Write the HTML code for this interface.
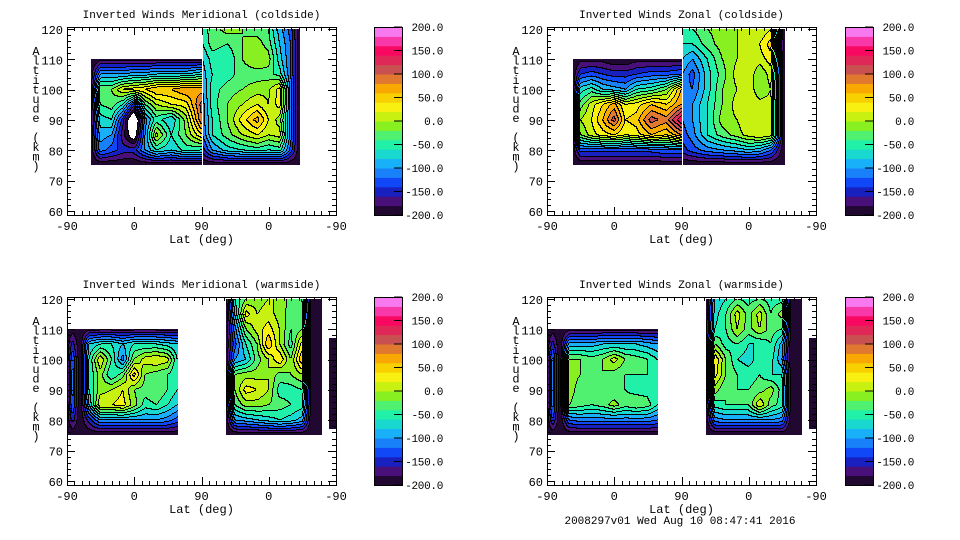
<!DOCTYPE html>
<html><head><meta charset="utf-8">
<style>
html,body{margin:0;padding:0;background:#fff;}
#root{position:relative;width:960px;height:540px;overflow:hidden;background:#fff;font-family:"Liberation Mono",monospace;}
canvas{position:absolute;image-rendering:pixelated;}
svg{position:absolute;left:0;top:0;}
</style></head>
<body>
<div id="root">
<canvas id="c0" width="268" height="186" style="left:68px;top:28px"></canvas>
<canvas id="c1" width="268" height="186" style="left:548px;top:28px"></canvas>
<canvas id="c2" width="268" height="186" style="left:68px;top:298px"></canvas>
<canvas id="c3" width="268" height="186" style="left:548px;top:298px"></canvas>
<svg id="ov" width="960" height="540"></svg>
</div>
<script>
// ---- colour scale ----
const levelLabels = ["200.0","150.0","100.0","50.0","0.0","-50.0","-100.0","-150.0","-200.0"];
const levelValues = [200,150,100,50,0,-50,-100,-150,-200];
const bandColors = ["#200830","#481078","#1820c0","#1048f8","#1880f8","#18b0f8","#18d8d0","#20f0a8","#50f070","#88f020","#c8f010","#f8f010","#f8d000","#f8a800","#e07830","#c85050","#e02858","#f80860","#f838a8","#f878f0"];
const xTickLabels = ["-90","0","90","0","-90"];
const yTickLabels = ["120","110","100","90","80","70","60"];
const altLeft = [75,80,85,90,95,100,105,110];
const altRight = [75,80,85,90,95,100,105,110,115,120];

// ---- panel 1: meridional coldside ----
const mcLeftX = [32,45,60,75,90,105,120,140,160,181];
const mcLeftV = [
[-200,-200,-200,-200,-200,-200,-200,-200,-200,-200],
[-200,-110,-130,-150,-150,-100,-60,-80,-50,-60],
[-200,-90,-100,-170,-230,-100,10,-60,-20,40],
[-200,-70,-60,-150,-260,-110,-50,-80,-10,100],
[-200,-40,-30,-60,-150,-40,0,20,30,110],
[-200,-20,-20,20,30,40,60,60,80,70],
[-200,-100,-100,-100,-90,-90,-80,-80,-80,-60],
[-200,-190,-190,-190,-190,-190,-190,-190,-190,-190]];
const mcRightX = [182,195,215,235,255,270,285,300,312];
const mcRightV = [
[-200,-200,-200,-200,-200,-200,-200,-200,-200],
[-150,-100,-70,-60,-50,-60,-50,-130,-200],
[-120,-60,-30,0,20,0,10,-110,-200],
[-110,-60,-20,30,70,20,-10,-110,-200],
[-110,-50,-20,0,20,0,30,-110,-200],
[-100,-50,-30,-20,-10,-5,30,-110,-200],
[-90,-60,-50,-30,-30,-30,-50,-120,-200],
[-80,-50,-60,-20,0,-10,-70,-120,-200],
[-60,-30,-40,-20,-10,-30,-80,-120,-200],
[-50,-30,-10,-20,-30,-40,-90,-130,-200]];

// ---- panel 2: zonal coldside ----
const zcLeftX = [35,45,60,75,90,105,120,140,160,180];
const zcLeftV = [
[-200,-200,-200,-200,-200,-200,-200,-200,-200,-200],
[-200,-130,-130,-130,-130,-130,-130,-130,-120,-120],
[-200,-20,10,30,40,20,30,60,40,80],
[-200,0,20,60,110,40,50,110,90,160],
[-200,-30,10,40,70,20,30,60,40,80],
[-200,-70,-50,-80,-90,-100,-60,-50,-20,60],
[-200,-140,-130,-140,-150,-150,-140,-130,-130,-120],
[-200,-190,-190,-190,-200,-200,-190,-190,-190,-190]];
const zcRightX = [182,195,215,235,255,270,285,300,318];
const zcRightV = [
[-200,-200,-200,-200,-200,-200,-200,-200,-200],
[-150,-130,-110,-100,-90,-80,-90,-120,-200],
[-130,-110,-60,-30,-10,10,20,10,-200],
[-120,-100,-60,-10,0,20,20,10,-200],
[-110,-100,-60,-20,10,20,10,10,-200],
[-110,-120,-70,-20,0,20,-20,0,-200],
[-100,-130,-70,-30,10,20,-20,10,-200],
[-80,-100,-60,-20,0,20,10,30,-200],
[-60,-60,-30,-10,0,10,20,50,-200],
[-60,-40,-20,-10,0,0,0,20,-200]];

// ---- panel 3: meridional warmside ----
const mwLeftX = [0,8,18,30,45,60,75,90,105,120,135,148];
const mwLeftV = [
[-200,-200,-200,-200,-200,-200,-200,-200,-200,-200,-200,-200],
[-200,-150,-200,-150,-100,-100,-100,-100,-100,-100,-110,-130],
[-200,-120,-200,-80,20,20,30,-10,-50,-40,-60,-80],
[-200,-110,-200,-60,-10,0,20,-20,-30,-20,-40,-60],
[-200,-110,-200,-60,-10,-60,-30,50,-20,-30,-40,-60],
[-200,-120,-200,-60,20,-40,-110,-20,10,20,10,-60],
[-200,-150,-200,-80,-60,-60,-80,-60,-60,-60,-70,-80],
[-200,-190,-200,-190,-190,-190,-190,-190,-190,-190,-190,-190]];
const mwRightX = [213,225,240,255,270,285,300,315,328,341];
const mwRightV = [
[-200,-200,-200,-200,-200,-200,-200,-200,-200,-200],
[-200,-100,-90,-80,-70,-60,-70,-90,-200,-200],
[-200,-40,-10,-10,-20,-30,-40,-50,-200,-200],
[-200,-20,30,20,0,-50,-50,-40,-200,-200],
[-200,-20,-10,-10,0,-30,-20,0,-200,-200],
[-200,-100,-80,-30,0,40,-20,60,-200,-200],
[-200,-130,-60,-20,60,0,-50,30,-200,-200],
[-200,-110,-20,10,30,0,-40,-20,-200,-200],
[-200,-80,30,0,10,-10,-30,-30,-200,-200],
[-200,-60,-20,-10,0,0,-30,-40,-200,-200]];

// ---- panel 4: zonal warmside ----
const zwLeftX = [0,8,18,30,45,60,75,90,105,120,135,148];
const zwLeftV = [
[-200,-200,-200,-200,-200,-200,-200,-200,-200,-200,-200,-200],
[-200,-140,-200,-120,-110,-110,-110,-110,-110,-110,-110,-120],
[-200,-110,-200,-20,-30,-40,-30,-10,-30,-20,-30,-60],
[-200,-110,-200,-10,-30,-40,-40,-40,-40,-50,-50,-60],
[-200,-110,-200,-10,-20,-40,-20,-30,-40,-40,-40,-60],
[-200,-110,-200,-20,-20,-30,-20,10,-20,-30,-40,-60],
[-200,-150,-200,-90,-90,-90,-80,-80,-80,-80,-90,-100],
[-200,-190,-200,-190,-190,-190,-190,-190,-190,-190,-190,-190]];
const zwRightX = [213,225,240,255,270,285,300,315,328,341];
const zwRightV = [
[-200,-200,-200,-200,-200,-200,-200,-200,-200,-200],
[-200,-110,-100,-100,-100,-100,-100,-110,-200,-200],
[-200,-50,-40,-40,-40,20,-30,-50,-200,-200],
[-200,-10,-40,-40,-40,-30,-10,-50,-200,-200],
[-200,30,-20,-40,-50,-40,-60,-60,-200,-200],
[-200,40,-20,-60,-70,-50,-50,-100,-200,-200],
[-200,-20,-50,-40,-60,-60,-40,-90,-200,-200],
[-200,-60,-40,0,-30,0,-30,-40,-200,-200],
[-200,-70,-40,10,-30,10,-40,-10,-200,-200],
[-200,-80,-60,-40,-50,-40,-50,-50,-200,-200]];

const ovalX = [350,360];
const ovalAlt = [77,107];
const ovalV = [[-190,-190],[-190,-190]];

const panels = [
 {id:"c0", blocks:[[mcLeftX,altLeft,mcLeftV],[mcRightX,altRight,mcRightV]]},
 {id:"c1", blocks:[[zcLeftX,altLeft,zcLeftV],[zcRightX,altRight,zcRightV]]},
 {id:"c2", blocks:[[mwLeftX,altLeft,mwLeftV],[mwRightX,altRight,mwRightV],[ovalX,ovalAlt,ovalV]]},
 {id:"c3", blocks:[[zwLeftX,altLeft,zwLeftV],[zwRightX,altRight,zwRightV],[ovalX,ovalAlt,ovalV]]}
];

function idx(arr,v){for(let k=0;k<arr.length-1;k++){if(v<=arr[k+1])return k;}return arr.length-2;}
function sample(blocks,u,alt){
 for(const [xs,as,vs] of blocks){
  if(u<xs[0]||u>xs[xs.length-1]||alt<as[0]||alt>as[as.length-1])continue;
  const i=idx(xs,u), j=idx(as,alt);
  const tx=(u-xs[i])/(xs[i+1]-xs[i]), ty=(alt-as[j])/(as[j+1]-as[j]);
  return vs[j][i]*(1-tx)*(1-ty)+vs[j][i+1]*tx*(1-ty)+vs[j+1][i]*(1-tx)*ty+vs[j+1][i+1]*tx*ty;
 }
 return null;
}
function hex(c){return [parseInt(c.substr(1,2),16),parseInt(c.substr(3,2),16),parseInt(c.substr(5,2),16)];}
const rgb = bandColors.map(hex);
for(const p of panels){
 const cv=document.getElementById(p.id), ctx=cv.getContext('2d');
 const W=cv.width,H=cv.height, img=ctx.createImageData(W,H);
 const band=new Int16Array(W*H);
 for(let j=0;j<H;j++)for(let i=0;i<W;i++){
  const u=(i+1.5)*360/269, alt=120-(j+0.5-1)/3.033;
  const v=sample(p.blocks,u,alt);
  let b=-1;
  if(v!==null){ if(v>=-200.5){b=Math.min(19,Math.max(0,Math.floor((v+200)/20)));} else b=-2; }
  band[j*W+i]=b;
 }
 for(let j=0;j<H;j++)for(let i=0;i<W;i++){
  const b=band[j*W+i], o=(j*W+i)*4;
  let c=[255,255,255];
  if(b>=0){
   c=rgb[b];
   const r=i<W-1?band[j*W+i+1]:b, d=j<H-1?band[(j+1)*W+i]:b;
   if((r!==b&&r!==-1)||(d!==b&&d!==-1))c=[0,0,0];
  } else if(b===-2){
   const r=i<W-1?band[j*W+i+1]:b, d=j<H-1?band[(j+1)*W+i]:b;
   if(r>=0||d>=0)c=[0,0,0];
  }
  img.data[o]=c[0];img.data[o+1]=c[1];img.data[o+2]=c[2];img.data[o+3]=255;
 }
 ctx.putImageData(img,0,0);
}

// ---- overlay ----
const NS="http://www.w3.org/2000/svg";
const ov=document.getElementById('ov');
function mk(tag,attrs,parent){const e=document.createElementNS(NS,tag);for(const k in attrs)e.setAttribute(k,attrs[k]);(parent||ov).appendChild(e);return e;}
const titles=["Inverted Winds Meridional (coldside)","Inverted Winds Zonal (coldside)","Inverted Winds Meridional (warmside)","Inverted Winds Zonal (warmside)"];
const offs=[[0,0],[480,0],[0,270],[480,270]];
const cbOffs=[[0,0],[471,0],[0,270],[471,270]];
const FF='Liberation Mono, monospace';
offs.forEach(([ox,oy],n)=>{
 const g=mk('g',{});
 
 
 const L=67+ox,T=27+oy,R=336+ox,B=215+oy;
 const t=mk('text',{x:(L+R)/2,y:18+oy,'text-anchor':'middle','font-size':'11','font-family':FF},g);
 t.textContent=titles[n];
 
 
 const fr=mk('rect',{x:L+0.5,y:T+0.5,width:R-L,height:B-T,fill:'none',stroke:'#000','stroke-width':1},g);
 
 
 for(let a=60;a<=120;a+=2){
  const y=Math.round(oy+29+(120-a)*3.033)+0.5, len=(a%10===0)?8:4;
  mk('line',{x1:L,x2:L+len,y1:y,y2:y,stroke:'#000'},g);
  mk('line',{x1:R-len,x2:R,y1:y,y2:y,stroke:'#000'},g);
 }
 yTickLabels.forEach((lab,k)=>{
  const y=oy+29+k*10*3.033;
  const tx=mk('text',{x:L-4,y:y+5,'text-anchor':'end','font-size':'12','font-family':FF},g);
  tx.textContent=lab;
  
  
 });
 for(let u=0;u<=360;u+=10){
  const x=Math.round(L+u*269/360)+0.5, len=(u%90===0)?8:4;
  mk('line',{x1:x,x2:x,y1:B,y2:B-len,stroke:'#000'},g);
  mk('line',{x1:x,x2:x,y1:T,y2:T+len,stroke:'#000'},g);
 }
 xTickLabels.forEach((lab,k)=>{
  const tx=mk('text',{x:L+k*90*269/360,y:B+15,'text-anchor':'middle','font-size':'12','font-family':FF},g);
  tx.textContent=lab;
  
  
 });
 const xl=mk('text',{x:(L+R)/2,y:B+28,'text-anchor':'middle','font-size':'12','font-family':FF},g);
 xl.textContent="Lat (deg)";
 
 
 const yl=mk('text',{x:36+ox,y:oy+55,'text-anchor':'middle','font-size':'12','font-family':FF},g);
 
 
 "Altitude (km)".split('').forEach((ch,k)=>{const s=mk('tspan',{x:36+ox,y:oy+55+k*9.6},yl);s.textContent=ch;});
 const [cx,cy]=cbOffs[n];
 const cb=mk('g',{},g);
 
 
 const bx=374+cx,bt=27+cy,bh=188,bw=28;
 bandColors.forEach((c,k)=>{
  const h=bh/bandColors.length;
  mk('rect',{x:bx,y:bt+bh-(k+1)*h,width:bw,height:h+0.5,fill:c},cb);
 });
 mk('rect',{x:bx+0.5,y:bt+0.5,width:bw,height:bh,fill:'none',stroke:'#000'},cb);
 levelValues.forEach((v,k)=>{
  const y=bt+bh*(200-v)/400;
  mk('line',{x1:bx+bw-8,x2:bx+bw,y1:y,y2:y,stroke:'#000'},cb);
  const tx=mk('text',{x:bx+69,y:y+4,'text-anchor':'end','font-size':'11','letter-spacing':'-0.3','font-family':FF},cb);
  tx.textContent=levelLabels[k];
  
  
 });
});
const ft=mk('text',{x:680,y:524,'text-anchor':'middle','font-size':'11','font-family':FF});
ft.textContent="2008297v01 Wed Aug 10 08:47:41 2016";


</script>
</body></html>
